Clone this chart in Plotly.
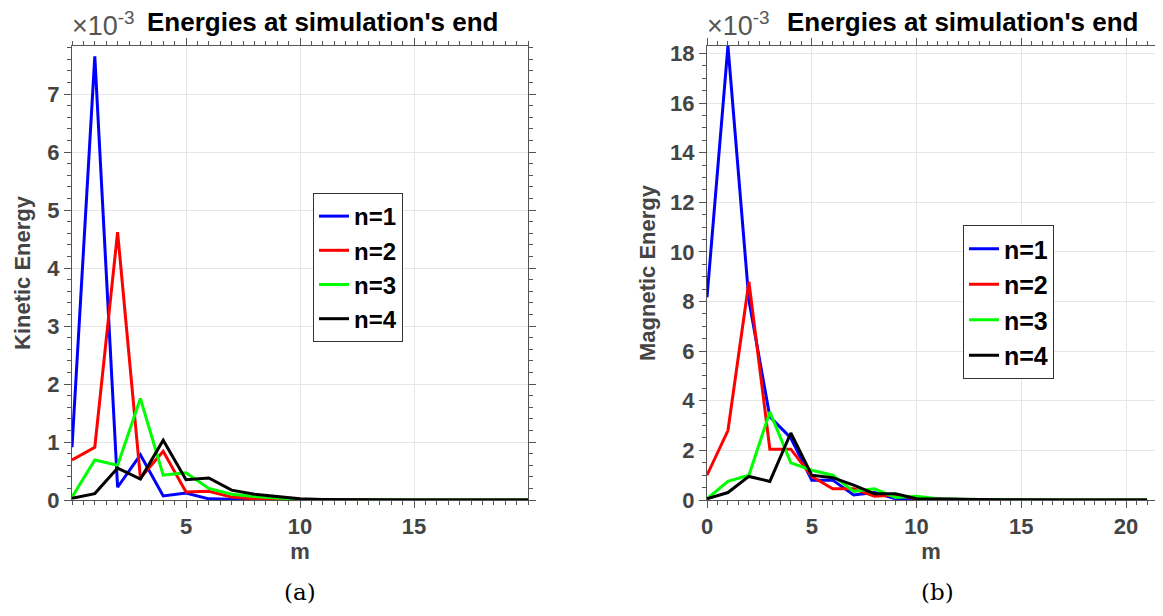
import plotly.graph_objects as go

# ---------------- data (values in units of 1e-3) ----------------
m_left = list(range(0, 21))
kin_n1 = [0.91, 7.65, 0.22, 0.78, 0.07, 0.12, 0.02, 0.01, 0.0, 0.0, 0.0, 0.0, 0.0, 0.0, 0.0, 0.0, 0.0, 0.0, 0.0, 0.0, 0.0]
kin_n2 = [0.69, 0.91, 4.62, 0.38, 0.84, 0.14, 0.15, 0.05, 0.02, 0.01, 0.0, 0.0, 0.0, 0.0, 0.0, 0.0, 0.0, 0.0, 0.0, 0.0, 0.0]
kin_n3 = [0.05, 0.69, 0.60, 1.75, 0.43, 0.47, 0.20, 0.10, 0.06, 0.03, 0.01, 0.0, 0.0, 0.0, 0.0, 0.0, 0.0, 0.0, 0.0, 0.0, 0.0]
kin_n4 = [0.03, 0.11, 0.55, 0.36, 1.03, 0.35, 0.38, 0.17, 0.10, 0.06, 0.02, 0.01, 0.005, 0.0, 0.0, 0.0, 0.0, 0.0, 0.0, 0.0, 0.0]

m_right = list(range(0, 22))
mag_n1 = [8.17, 18.3, 8.05, 3.35, 2.50, 0.80, 0.80, 0.20, 0.30, 0.05, 0.05, 0.03, 0.02, 0.01, 0.0, 0.0, 0.0, 0.0, 0.0, 0.0, 0.0, 0.0]
mag_n2 = [1.00, 2.80, 8.80, 2.05, 2.05, 0.95, 0.45, 0.45, 0.15, 0.20, 0.05, 0.03, 0.02, 0.01, 0.0, 0.0, 0.0, 0.0, 0.0, 0.0, 0.0, 0.0]
mag_n3 = [0.05, 0.75, 1.00, 3.55, 1.50, 1.20, 1.00, 0.35, 0.45, 0.10, 0.15, 0.05, 0.03, 0.01, 0.0, 0.0, 0.0, 0.0, 0.0, 0.0, 0.0, 0.0]
mag_n4 = [0.05, 0.30, 0.95, 0.75, 2.70, 1.00, 0.90, 0.60, 0.25, 0.25, 0.05, 0.05, 0.03, 0.02, 0.01, 0.0, 0.0, 0.0, 0.0, 0.0, 0.0, 0.0]

series_names = ["n=1", "n=2", "n=3", "n=4"]
series_colors = ["#0000ff", "#ff0000", "#00ff00", "#000000"]

title_text = "Energies at simulation's end"
left_ylabel = "Kinetic Energy"
right_ylabel = "Magnetic Energy"
xlabel = "m"
left_xticks = [5, 10, 15]
right_xticks = [0, 5, 10, 15, 20]
left_yticks = [0, 1, 2, 3, 4, 5, 6, 7]
right_yticks = [0, 2, 4, 6, 8, 10, 12, 14, 16, 18]

# ---------------- figure ----------------
# The page body has an 8px default margin, so the figure is shrunk by 16px
# and all reference pixel positions are shifted by 8px.
OFF = 8
W, H = 1163 - 2 * OFF, 616 - 2 * OFF
fig = go.Figure()

for name, col, ys in zip(series_names, series_colors, [kin_n1, kin_n2, kin_n3, kin_n4]):
    fig.add_trace(go.Scatter(x=m_left, y=ys, mode="lines", name="<b>%s</b>" % name,
                             line=dict(color=col, width=3), xaxis="x", yaxis="y",
                             legend="legend"))
for name, col, ys in zip(series_names, series_colors, [mag_n1, mag_n2, mag_n3, mag_n4]):
    fig.add_trace(go.Scatter(x=m_right, y=ys, mode="lines", name="<b>%s</b>" % name,
                             line=dict(color=col, width=3), xaxis="x2", yaxis="y2",
                             legend="legend2"))

def px_x(p):
    return min(1.0, max(0.0, (p - OFF) / W))

def px_y(p):
    return min(1.0, max(0.0, 1 - (p - OFF) / H))

axcol = "#555555"
gridcol = "#e6e6e6"
tickfont = dict(family="Liberation Sans", size=22, color="#444444", weight="bold")
labfont = dict(family="Liberation Sans", size=22, color="#444444", weight="bold")

common_axis = dict(showline=True, linecolor=axcol, linewidth=1, mirror="allticks",
                   ticks="outside", ticklen=7, tickcolor=axcol, tickwidth=1,
                   showgrid=True, gridcolor=gridcol, gridwidth=1, zeroline=False,
                   tickfont=tickfont, automargin=False)

def minor(dt):
    return dict(dtick=dt, tick0=0, ticks="outside", ticklen=4, tickcolor=axcol, showgrid=False)

y_top, y_bot = 46, 500
fig.update_layout(
    width=W, height=H, margin=dict(l=0, r=0, t=0, b=0, autoexpand=False),
    paper_bgcolor="white", plot_bgcolor="white",
    xaxis=dict(domain=[px_x(72), px_x(528)], range=[0, 20], tickvals=left_xticks,
               anchor="y", minor=minor(0.5),
               title=dict(text=xlabel, font=labfont, standoff=4), **common_axis),
    yaxis=dict(domain=[px_y(y_bot), px_y(y_top)], range=[0, 7.83], tickvals=left_yticks,
               anchor="x", minor=minor(0.2),
               title=dict(text=left_ylabel, font=labfont, standoff=10), **common_axis),
    xaxis2=dict(domain=[px_x(707), px_x(1155)], range=[0, 21.38], tickvals=right_xticks,
                anchor="y2", minor=minor(0.5),
                title=dict(text=xlabel, font=labfont, standoff=4), **common_axis),
    yaxis2=dict(domain=[px_y(y_bot), px_y(y_top)], range=[0, 18.3], tickvals=right_yticks,
                anchor="x2", minor=minor(0.5),
                title=dict(text=right_ylabel, font=labfont, standoff=8), **common_axis),
    legend=dict(x=px_x(313), y=px_y(193), xanchor="left", yanchor="top",
                bgcolor="white", bordercolor="#333333", borderwidth=1,
                font=dict(family="Liberation Sans", size=24, color="black"),
                itemwidth=30, tracegroupgap=0),
    legend2=dict(x=px_x(963), y=px_y(225), xanchor="left", yanchor="top",
                 bgcolor="white", bordercolor="#333333", borderwidth=1,
                 font=dict(family="Liberation Sans", size=25, color="black"),
                 itemwidth=30, tracegroupgap=0),
    showlegend=True,
)

annotations = []
for cx in [323, 963]:
    annotations.append(dict(x=px_x(cx), y=px_y(22), xref="paper", yref="paper",
                            text="<b>%s</b>" % title_text, showarrow=False,
                            font=dict(family="Liberation Sans", size=26, color="black"),
                            xanchor="center", yanchor="middle"))
for lx in [70, 705]:
    annotations.append(dict(x=px_x(lx), y=px_y(43), xref="paper", yref="paper",
                            text="×10<sup>-3</sup>", showarrow=False,
                            font=dict(family="Liberation Sans", size=27, color="#555555"),
                            xanchor="left", yanchor="bottom"))
for cx, lab in [(300, "(a)"), (937, "(b)")]:
    annotations.append(dict(x=px_x(cx), y=px_y(607), xref="paper", yref="paper",
                            text=lab, showarrow=False,
                            font=dict(family="DejaVu Serif", size=23, color="black"),
                            xanchor="center", yanchor="bottom"))
fig.update_layout(annotations=annotations)

fig.write_html("out.html")
